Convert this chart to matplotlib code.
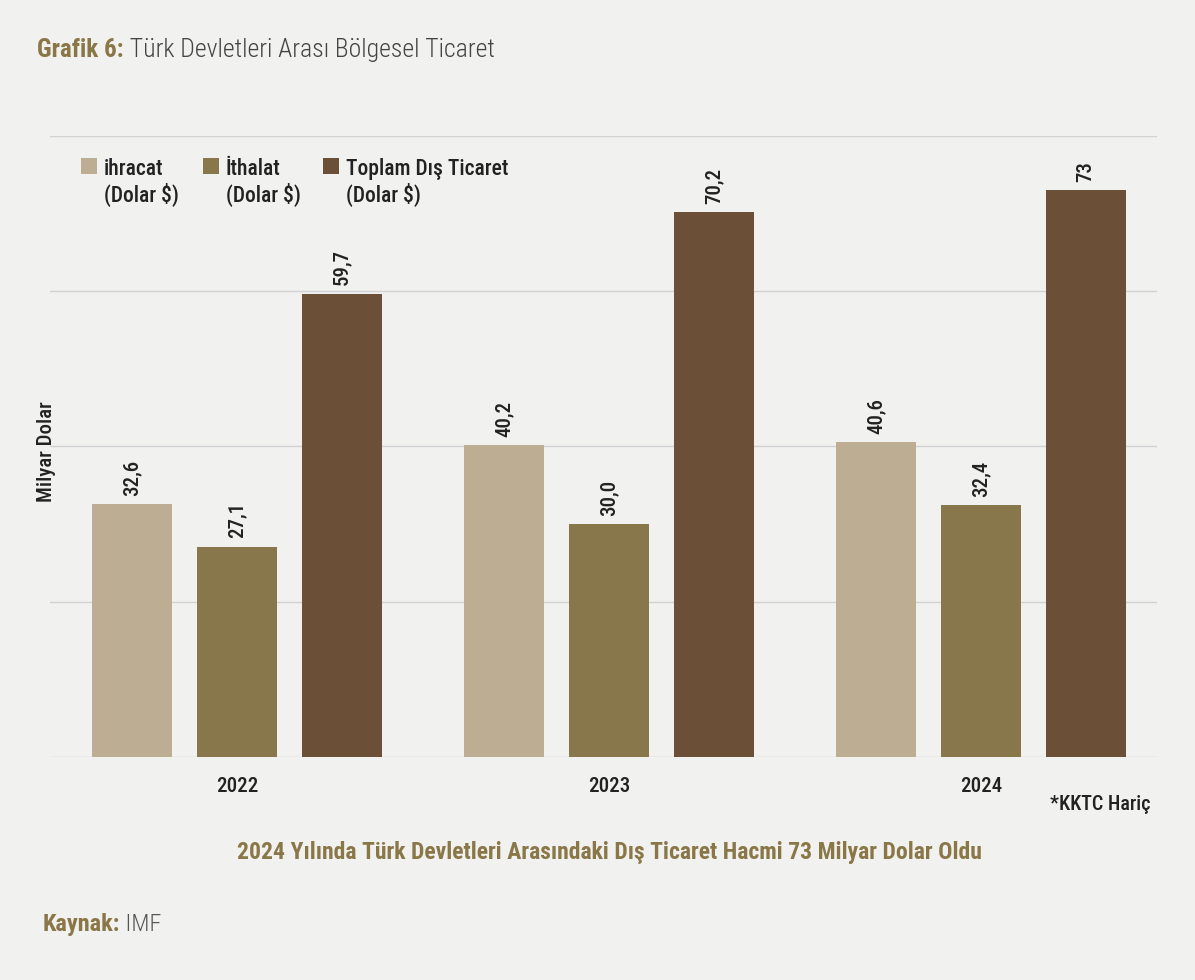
import matplotlib
matplotlib.use("Agg")
import matplotlib.pyplot as plt
import matplotlib.font_manager as fm
from matplotlib.patches import Rectangle
import numpy as np

years = ["2022", "2023", "2024"]
ihracat = [32.6, 40.2, 40.6]
ithalat = [27.1, 30.0, 32.4]
toplam = [59.7, 70.2, 73.0]
ihracat_lbl = ["32,6", "40,2", "40,6"]
ithalat_lbl = ["27,1", "30,0", "32,4"]
toplam_lbl = ["59,7", "70,2", "73"]
seri_adlari = ["ihracat", "İthalat", "Toplam Dış Ticaret"]
birim = "(Dolar $)"
renkler = ["#bcad93", "#87774b", "#6b4f36"]

# pick a narrow-ish font if one is installed
mevcut = {f.name for f in fm.fontManager.ttflist}
font = "DejaVu Sans"
for aday in ["Roboto Condensed", "Liberation Sans Narrow", "DejaVu Sans Condensed", "Roboto"]:
    if aday in mevcut:
        font = aday
        break
plt.rcParams["font.family"] = [font, "DejaVu Sans"]

W, H = 1195, 980
def px(x, y):
    return x / W, 1 - y / H

zemin = "#f1f1f0"
koyu = "#222222"
zeytin = "#8a7748"

fig = plt.figure(figsize=(W / 100, H / 100), dpi=100, facecolor=zemin)
l, t = px(50, 136)
r, b = px(1157, 757)
ax = fig.add_axes([l, b, r - l, t - b])
ax.set_facecolor("none")

x = np.arange(len(years))
adim = 0.2823
gen = 0.215
seriler = [(ihracat, ihracat_lbl), (ithalat, ithalat_lbl), (toplam, toplam_lbl)]
for i, (vals, lbls) in enumerate(seriler):
    xs = x + (i - 1) * adim
    ax.bar(xs, vals, width=gen, color=renkler[i], zorder=3)
    for xi, v, s in zip(xs, vals, lbls):
        ax.annotate(s, (xi, v), xytext=(0, 6), textcoords="offset points",
                    rotation=90, ha="center", va="bottom", fontsize=15,
                    fontweight="medium", color=koyu, zorder=4)

ax.set_ylim(0, 80)
ax.set_xlim(-0.503, 2.474)
ax.set_yticks([0, 20, 40, 60, 80])
ax.yaxis.grid(True, color="#d2d2d2", linewidth=1)
ax.tick_params(axis="y", left=False, labelleft=False)
ax.tick_params(axis="x", bottom=False, pad=11, labelsize=15, labelcolor=koyu)
ax.set_xticks(x)
ax.set_xticklabels(years, fontweight="medium")
for sp in ax.spines.values():
    sp.set_visible(False)

# y label
fig.text(*px(46, 452), "Milyar Dolar", rotation=90, ha="center", va="center",
         fontsize=15, color=koyu, fontweight="medium")

# legend drawn by hand
leg_x = [81, 203, 323]
for i, ad in enumerate(seri_adlari):
    fx, fy = px(leg_x[i], 174)
    fig.add_artist(Rectangle((fx, fy), 16 / W, 16 / H, transform=fig.transFigure,
                             facecolor=renkler[i], edgecolor="none"))
    fig.text(*px(leg_x[i] + 23, 175), ad, ha="left", va="baseline", fontsize=15.5,
             color=koyu, fontweight="medium")
    fig.text(*px(leg_x[i] + 23, 202), birim, ha="left", va="baseline", fontsize=15.5,
             color=koyu, fontweight="medium")

# title
t1 = fig.text(*px(37, 57), "Grafik 6:", ha="left", va="baseline", fontsize=18,
              fontweight="bold", color=zeytin)
ax.annotate(" Türk Devletleri Arası Bölgesel Ticaret", xy=(1, 0), xycoords=t1,
            ha="left", va="bottom", fontsize=18.5, color="#444444",
            fontweight="light", annotation_clip=False)

fig.text(*px(1151, 805), "*KKTC Hariç", ha="right", va="center", fontsize=14.5,
         color=koyu, fontweight="medium")

fig.text(*px(609, 852), "2024 Yılında Türk Devletleri Arasındaki Dış Ticaret Hacmi 73 Milyar Dolar Oldu",
         ha="center", va="center", fontsize=17, color=zeytin, fontweight="bold")

k1 = fig.text(*px(43, 931), "Kaynak:", ha="left", va="baseline", fontsize=17.5,
              fontweight="bold", color=zeytin)
ax.annotate(" IMF", xy=(1, 0), xycoords=k1, ha="left", va="bottom", fontsize=17.5,
            color="#555555", fontweight="light", annotation_clip=False)

fig.savefig("out.png", dpi=100, facecolor=zemin)
